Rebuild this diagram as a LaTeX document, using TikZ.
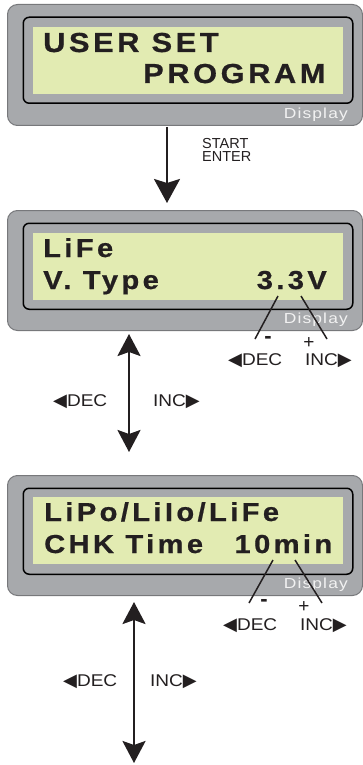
\documentclass[tikz,border=0pt]{standalone}
\usepackage{fontspec}
\setmainfont{Liberation Sans}
\newfontfamily\lcdfont{Liberation Sans}[LetterSpace=13,FakeStretch=1.12,FakeBold=0.7]
\newfontfamily\dispfont{Liberation Sans}[LetterSpace=8,FakeStretch=1.2]
\newfontfamily\lblfont{Liberation Sans}[FakeStretch=1.12]
\newfontfamily\symfont{DejaVu Sans}
\usetikzlibrary{arrows.meta}
\definecolor{panelgray}{HTML}{A7A9AC}
\definecolor{panelborder}{HTML}{77787B}
\definecolor{lcdgreen}{HTML}{E2EBB2}
\definecolor{ink}{HTML}{231F20}
\definecolor{disptext}{HTML}{F2F2F2}
\newcommand{\ltri}{{\symfont\fontsize{18}{18}\selectfont ◀}}
\newcommand{\rtri}{{\symfont\fontsize{18}{18}\selectfont ▶}}
\tikzset{
  panel/.style={draw=panelborder, fill=panelgray, line width=1pt, rounded corners=10pt,
    minimum width=355pt, minimum height=121pt, anchor=north west, inner sep=0pt},
  lcdframe/.style={draw=black, fill=panelgray, line width=1.5pt, rounded corners=6pt,
    minimum width=329.5pt, minimum height=86pt, anchor=north west, inner sep=0pt},
  glass/.style={fill=lcdgreen, minimum width=310pt, minimum height=67pt, anchor=north west, inner sep=0pt},
  lcdtxt/.style={anchor=base west, inner sep=0pt, text=ink, font=\lcdfont\bfseries\fontsize{26}{26}\selectfont},
  lcdbig/.style={lcdtxt, font=\lcdfont\bfseries\fontsize{27.5}{27.5}\selectfont},
  disp/.style={anchor=base east, inner sep=0pt, text=disptext, font=\dispfont\fontsize{14.5}{14.5}\selectfont},
  lbl/.style={anchor=base west, inner sep=0pt, text=ink, font=\lblfont\fontsize{17}{17}\selectfont},
  sign/.style={anchor=center, inner sep=0pt, text=ink, font=\fontsize{19}{19}\selectfont},
  minus/.style={sign, font=\bfseries\fontsize{22}{22}\selectfont},
  single/.style={draw=ink, line width=2.7pt, -{Stealth[width=26pt,length=24pt,inset=4pt]}},
  double/.style={draw=ink, line width=2.7pt, {Stealth[width=23pt,length=22pt,inset=4pt]}-{Stealth[width=23pt,length=22pt,inset=4pt]}},
  pointer/.style={draw=ink, line width=1.5pt},
}
\begin{document}
\begin{tikzpicture}[x=1pt,y=-1pt]
\useasboundingbox (0,0) rectangle (363,765);
% panel 1
\node[panel] (p1) at (7,4) {};
\node[lcdframe] (f1) at (22.5,16.5) {};
\node[glass] (g1) at (33,26.5) {};
\node[lcdbig] (t1a) at (43,52) {USER SET};
\node[lcdbig] (t1b) at (143,83) {PROGRAM};
\node[disp] (d1) at (348,118) {Display};
% panel 2
\node[panel, minimum height=120pt] (p2) at (7,210) {};
\node[lcdframe] (f2) at (22.5,222.5) {};
\node[glass] (g2) at (33,232.5) {};
\node[lcdtxt] (t2a) at (43,257) {LiFe};
\node[lcdtxt] (t2b) at (43,289) {V. Type};
\node[lcdtxt, anchor=base east] (t2c) at (327,289) {3.3V};
\node[disp] (d2) at (348,323) {Display};
% panel 3
\node[panel, minimum height=120pt] (p3) at (7,475) {};
\node[lcdframe] (f3) at (22.5,487.5) {};
\node[glass] (g3) at (33,497) {};
\node[lcdtxt] (t3a) at (44,521) {LiPo/LiIo/LiFe};
\node[lcdtxt] (t3b) at (44,553) {CHK Time\hspace{20pt} 10min};
\node[disp] (d3) at (348,588) {Display};
% arrow 1
\coordinate (a1s) at (167,127);
\coordinate (a1e) at (167,203);
\draw[single] (a1s) -- (a1e);
\node[anchor=base west, inner sep=0pt, align=left, text=ink, font=\fontsize{14.5}{13}\selectfont] (se) at (202,161) {START\\ENTER};
% double arrow 2
\coordinate (a2s) at (129,334);
\coordinate (a2e) at (129,452);
\draw[double] (a2s) -- (a2e);
\node[lbl] (dec2) at (53,406) {\ltri DEC};
\node[lbl] (inc2) at (153,406) {INC\rtri};
% pointers 2
\coordinate (m2s) at (278,296);
\coordinate (m2e) at (255,339);
\coordinate (q2s) at (301,296);
\coordinate (q2e) at (327,339);
\draw[pointer] (m2s) -- (m2e);
\draw[pointer] (q2s) -- (q2e);
\node[minus] (mi2) at (268,340) {-};
\node[sign] (pl2) at (309,343) {+};
\node[lbl] (pdec2) at (228,365) {\ltri DEC};
\node[lbl] (pinc2) at (305,365) {INC\rtri};
% double arrow 3
\coordinate (a3s) at (134,602);
\coordinate (a3e) at (134,763);
\draw[double] (a3s) -- (a3e);
\node[lbl] (dec3) at (63,686) {\ltri DEC};
\node[lbl] (inc3) at (150,686) {INC\rtri};
% pointers 3
\coordinate (m3s) at (273,560);
\coordinate (m3e) at (249,603);
\coordinate (q3s) at (295,560);
\coordinate (q3e) at (322,603);
\draw[pointer] (m3s) -- (m3e);
\draw[pointer] (q3s) -- (q3e);
\node[minus] (mi3) at (264,603) {-};
\node[sign] (pl3) at (304,607) {+};
\node[lbl] (pdec3) at (223,630) {\ltri DEC};
\node[lbl] (pinc3) at (300,630) {INC\rtri};
\end{tikzpicture}
\end{document}
